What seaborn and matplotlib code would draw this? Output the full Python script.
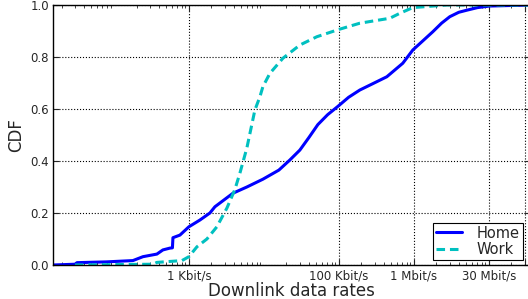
import numpy as np
import pandas as pd
import matplotlib
matplotlib.use('Agg')
import matplotlib.pyplot as plt
from matplotlib.ticker import FixedLocator, LogLocator, NullFormatter
import seaborn as sns

sns.set_style('white', {'xtick.direction': 'in', 'ytick.direction': 'in'})
plt.rcParams['font.family'] = ['DejaVu Sans']

# downlink rate (log10 of bit/s) and CDF
home_log10 = [1.187, 1.48, 1.507, 1.9, 2.253, 2.387, 2.573, 2.653, 2.747, 2.78, 2.787,
              2.88, 3.0, 3.147, 3.28, 3.347, 3.587, 3.773, 3.987, 4.2, 4.347, 4.48,
              4.6, 4.72, 4.85, 4.987, 5.13, 5.28, 5.45, 5.64, 5.853, 5.987, 6.12,
              6.253, 6.37, 6.48, 6.6, 6.707, 6.85, 7.013, 7.55]
home_cdf = [0.0, 0.003, 0.009, 0.012, 0.017, 0.032, 0.042, 0.058, 0.065, 0.066, 0.105,
            0.115, 0.147, 0.173, 0.2, 0.224, 0.276, 0.30, 0.33, 0.365, 0.404, 0.442,
            0.49, 0.54, 0.578, 0.61, 0.645, 0.673, 0.697, 0.724, 0.776, 0.827, 0.862,
            0.897, 0.93, 0.955, 0.972, 0.98, 0.99, 0.996, 1.0]

work_log10 = [1.48, 2.52, 2.573, 2.907, 3.0, 3.107, 3.24, 3.373, 3.507, 3.613, 3.68,
              3.747, 3.773, 3.88, 3.947, 3.987, 4.08, 4.253, 4.48, 4.707, 5.0, 5.28,
              5.68, 5.813, 5.987, 6.44, 7.55]
work_cdf = [0.0, 0.003, 0.01, 0.017, 0.032, 0.07, 0.1, 0.147, 0.219, 0.29, 0.353,
            0.423, 0.45, 0.596, 0.647, 0.686, 0.737, 0.795, 0.846, 0.878, 0.906, 0.93,
            0.949, 0.968, 0.99, 1.0, 1.0]

tick_pos = [1e3, 1e5, 1e6, 1e7, 10 ** 7.48]
tick_labels = ['1 Kbit/s', '100 Kbit/s', '1 Mbit/s', '30 Mbit/s', '']

df = pd.concat([
    pd.DataFrame({'rate': 10 ** np.array(home_log10), 'cdf': home_cdf, 'loc': 'Home'}),
    pd.DataFrame({'rate': 10 ** np.array(work_log10), 'cdf': work_cdf, 'loc': 'Work'}),
])

fig = plt.figure(figsize=(5.28, 2.99), dpi=100)
ax = fig.add_axes([53 / 528, 1 - 265 / 299, 477 / 528, 260 / 299])

sns.lineplot(data=df, x='rate', y='cdf', hue='loc', style='loc',
             palette={'Home': '#0000ff', 'Work': '#00c0c0'},
             dashes={'Home': '', 'Work': (2.8, 1.6)},
             sort=False, estimator=None, lw=2.2, ax=ax)

ax.set_xscale('log')
ax.set_xlim(10 ** 1.187, 10 ** 7.55)
ax.set_ylim(0, 1)
ax.xaxis.set_major_locator(FixedLocator(tick_pos))
ax.set_xticklabels(tick_labels)
ax.xaxis.set_minor_locator(LogLocator(base=10, subs=np.arange(2, 10), numticks=20))
ax.xaxis.set_minor_formatter(NullFormatter())
ax.set_yticks([0, 0.2, 0.4, 0.6, 0.8, 1.0])
ax.set_yticklabels(['0.0', '0.2', '0.4', '0.6', '0.8', '1.0'])

ax.tick_params(which='both', direction='in', bottom=True, left=True, top=True, right=True,
               labelsize=8.5, pad=3)
ax.tick_params(which='major', length=4, width=0.8)
ax.tick_params(which='minor', length=2, width=0.6)
ax.grid(True, which='major', color='k', linestyle=':', linewidth=0.8)
for s in ax.spines.values():
    s.set_color('k')
    s.set_linewidth(1.0)

ax.set_xlabel('Downlink data rates', fontsize=12, labelpad=0)
ax.set_ylabel('CDF', fontsize=12, labelpad=4)

leg = ax.legend(loc='lower right', fontsize=10.5, frameon=True, fancybox=False,
                edgecolor='k', framealpha=1, handlelength=1.8, handletextpad=1.0,
                borderaxespad=0.35, borderpad=0.2, labelspacing=0.1,
                bbox_to_anchor=(475 / 477, 0))
leg.get_frame().set_linewidth(0.8)

fig.savefig('out.png', dpi=100)
